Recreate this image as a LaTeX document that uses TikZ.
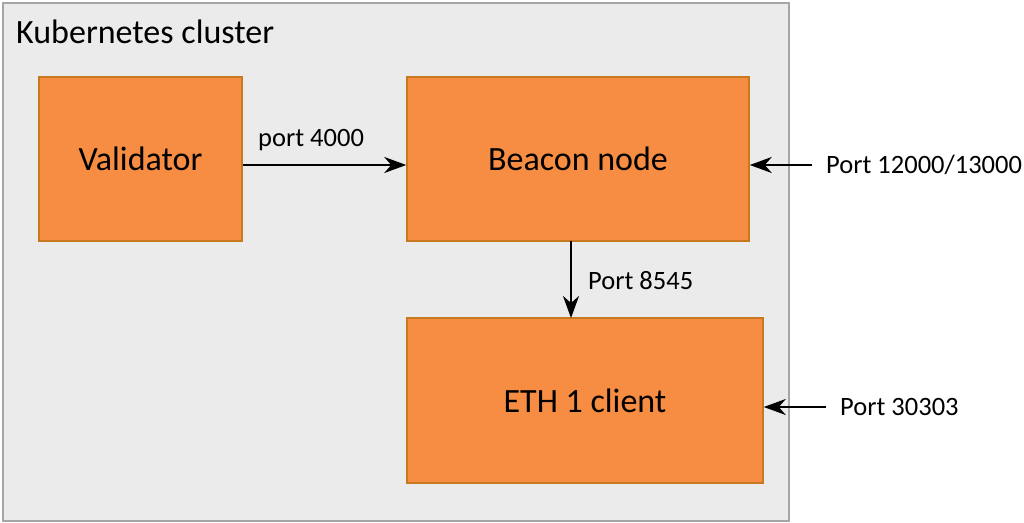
\documentclass[tikz,border=0pt]{standalone}
\usepackage{fontspec}
\setmainfont{Carlito}
\usetikzlibrary{arrows.meta}
\definecolor{clfill}{HTML}{EBEBEB}
\definecolor{clborder}{HTML}{A6A6A6}
\definecolor{boxfill}{HTML}{F68D42}
\definecolor{boxborder}{HTML}{C8781E}
\tikzset{myarrow/.tip={Stealth[length=22pt,width=16pt,inset=7pt]}}
\begin{document}
\begin{tikzpicture}[x=1pt,y=-1pt,
  box/.style={draw=boxborder,fill=boxfill,line width=1.5pt,inner sep=0pt,font=\fontsize{34}{40}\selectfont},
  conn/.style={line width=2.4pt,-myarrow},
  lbl/.style={font=\fontsize{26.5}{30}\selectfont,inner sep=0pt}]
\useasboundingbox (0,0) rectangle (1024,522);
\node[draw=clborder,fill=clfill,line width=2pt,minimum width=786pt,minimum height=518pt,anchor=north west,inner sep=0pt] (cluster) at (2,2) {};
\node[anchor=west,inner sep=0pt,font=\fontsize{34}{40}\selectfont] (title) at (16,32) {Kubernetes cluster};
\node[box,minimum width=203pt,minimum height=164pt] (val) at (140.5,159) {Validator};
\node[box,minimum width=342pt,minimum height=164pt] (beacon) at (578,159) {Beacon node};
\node[box,minimum width=356pt,minimum height=165pt] (eth) at (585,400.5) {ETH 1 client};
\draw[conn] (val.east |- 0,165) -- (beacon.west |- 0,165);
\node[lbl,anchor=west] (l4000) at (258,140) {port 4000};
\draw[conn] (571,241) coordinate (bs) -- (571,318) coordinate (be);
\node[lbl,anchor=west] (l8545) at (588,281) {Port 8545};
\node[lbl,anchor=west] (l12000) at (826,165) {Port 12000/13000};
\draw[conn] (l12000.west) ++(-14,0) -- (beacon.east |- 0,165);
\node[lbl,anchor=west] (l30303) at (840,407) {Port 30303};
\draw[conn] (l30303.west) ++(-14,0) -- (eth.east |- 0,407);
\end{tikzpicture}
\end{document}
